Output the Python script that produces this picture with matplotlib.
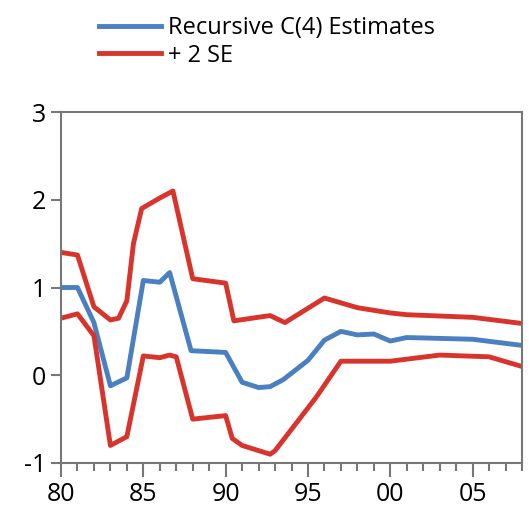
import matplotlib.pyplot as plt
plt.rcParams['font.family'] = ['Open Sans', 'DejaVu Sans']
plt.rcParams['axes.unicode_minus'] = False

bx = [1980,1981,1982,1983,1984,1985,1986,1986.6,1987.9,1990,1991,1992,1992.7,1993.5,1995,1996,1997,1998,1999,2000,2001,2005,2008]
by = [1.0,1.0,0.6,-0.12,-0.03,1.08,1.06,1.17,0.28,0.26,-0.08,-0.14,-0.13,-0.05,0.17,0.4,0.5,0.46,0.47,0.39,0.43,0.41,0.34]
ux = [1980,1981,1982,1983,1983.5,1984,1984.4,1984.9,1986,1986.8,1988,1990,1990.5,1992.7,1993.6,1996,1998,2000,2001,2005,2008]
uy = [1.4,1.37,0.78,0.63,0.65,0.85,1.5,1.9,2.02,2.1,1.1,1.05,0.62,0.68,0.6,0.88,0.77,0.71,0.69,0.66,0.59]
lx = [1980,1981,1982,1983,1984,1985,1986,1986.6,1987,1988,1990,1990.4,1991,1992.7,1993,1995.5,1997,2000,2003,2006,2008]
ly = [0.65,0.7,0.45,-0.8,-0.7,0.22,0.2,0.23,0.21,-0.5,-0.46,-0.72,-0.8,-0.9,-0.86,-0.25,0.16,0.16,0.23,0.21,0.1]
xticks = [1980,1985,1990,1995,2000,2005]
xlabels = ['80','85','90','95','00','05']

fig = plt.figure(figsize=(5.29,5.12), dpi=100)
ax = fig.add_axes([61/529, 1-463/512, 461/529, 351/512])
ax.plot(bx, by, color='#4a7fc1', lw=3.5, label='Recursive C(4) Estimates')
ax.plot(ux, uy, color='#d9342b', lw=3.5, label='+ 2 SE')
ax.plot(lx, ly, color='#d9342b', lw=3.5)
ax.set_xlim(1980, 2008)
ax.set_ylim(-1, 3)
ax.set_xticks(xticks)
ax.set_xticklabels(xlabels)
ax.set_xticks(range(1980,2009), minor=True)
ax.set_yticks([-1,0,1,2,3])
ax.tick_params(axis='both', labelsize=18, color='#777777', width=1.5)
ax.tick_params(axis='x', which='major', length=10, direction='out')
ax.tick_params(axis='x', which='minor', length=6, direction='out', width=1.5, color='#777777')
ax.tick_params(axis='y', length=7, direction='out')
for s in ax.spines.values():
    s.set_color('#777777'); s.set_linewidth(1.5)
fig.legend(loc='upper left', bbox_to_anchor=(78/529, 1.01), frameon=False, fontsize=17,
           handlelength=2.6, handletextpad=0.3, labelspacing=0.15)
fig.savefig('out.png')
